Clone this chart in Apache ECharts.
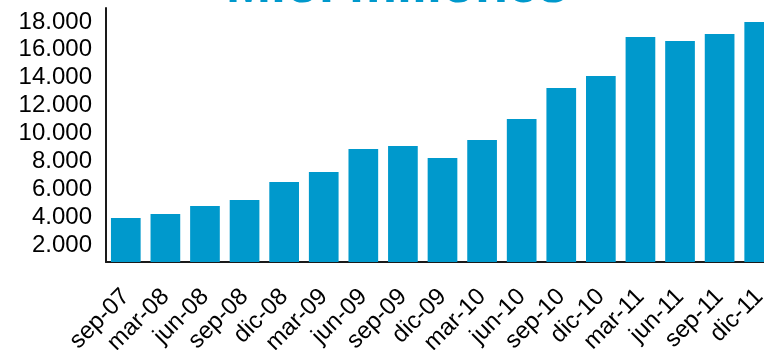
<!DOCTYPE html>
<html>
<head>
<meta charset="utf-8">
<script src="https://cdn.jsdelivr.net/npm/echarts@6/dist/echarts.min.js"></script>
<style>
  html, body { margin: 0; padding: 0; background: #ffffff; }
  #chart { width: 764px; height: 350px; }
</style>
</head>
<body>
<div id="chart"></div>
<script>
// Quarterly periods
const categories = ['sep-07', 'mar-08', 'jun-08', 'sep-08', 'dic-08', 'mar-09', 'jun-09', 'sep-09', 'dic-09',
                    'mar-10', 'jun-10', 'sep-10', 'dic-10', 'mar-11', 'jun-11', 'sep-11', 'dic-11'];
// Values in millions
const values = [3950, 4240, 4810, 5240, 6530, 7250, 8900, 9110, 8250,
                9540, 11050, 13270, 14130, 16920, 16640, 17140, 18000];
// Labelled ticks on the value axis
const yTicks = [2000, 4000, 6000, 8000, 10000, 12000, 14000, 16000, 18000];
const titleText = 'Mio. millones';

const BLUE = '#0099cc';
const FONT = '"Liberation Sans", Arial, sans-serif';

function fmt(v) {
  return String(v).replace(/\B(?=(\d{3})+(?!\d))/g, '.');
}

const chart = echarts.init(document.getElementById('chart'), null, { renderer: 'canvas' });
chart.setOption({
  animation: false,
  backgroundColor: '#ffffff',
  graphic: [{
    type: 'text',
    x: 397,
    y: 14,
    style: {
      text: titleText,
      fill: BLUE,
      font: 'bold 54px ' + FONT,
      textAlign: 'center',
      textVerticalAlign: 'bottom'
    }
  }],
  grid: { left: 106, top: 8, width: 673, height: 254, containLabel: false, outerBoundsMode: 'none' },
  xAxis: {
    type: 'category',
    data: categories,
    boundaryGap: true,
    axisLine: { show: true, lineStyle: { color: '#1a1a1a', width: 2 } },
    axisTick: { show: false },
    axisLabel: {
      interval: 0,
      rotate: 45,
      margin: 31,
      color: '#000000',
      fontFamily: FONT,
      fontSize: 24
    },
    splitLine: { show: false }
  },
  yAxis: {
    type: 'value',
    min: 800,
    max: 19000,
    interval: 200,
    axisLine: { show: true, lineStyle: { color: '#1a1a1a', width: 2 } },
    axisTick: { show: false },
    splitLine: { show: false },
    axisLabel: {
      margin: 14,
      color: '#000000',
      fontFamily: FONT,
      fontSize: 24,
      formatter: function (v) {
        return yTicks.indexOf(v) >= 0 ? fmt(v) : '';
      }
    }
  },
  series: [{
    type: 'bar',
    data: values,
    barWidth: '75%',
    itemStyle: { color: BLUE }
  }]
});
</script>
</body>
</html>
